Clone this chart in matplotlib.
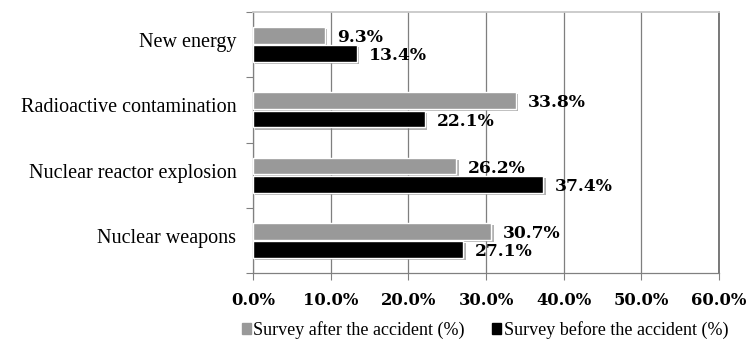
import matplotlib
matplotlib.use("Agg")
import matplotlib.pyplot as plt
import matplotlib.patheffects as pe
from matplotlib.patches import Rectangle
import numpy as np

categories = ["New energy", "Radioactive contamination",
              "Nuclear reactor explosion", "Nuclear weapons"]
after_accident = [9.3, 33.8, 26.2, 30.7]
before_accident = [13.4, 22.1, 37.4, 27.1]
series_names = ["Survey after the accident (%)", "Survey before the accident (%)"]
x_ticks = [0, 10, 20, 30, 40, 50, 60]

GRAY = "#999999"
BLACK = "#000000"
serif = ["Liberation Serif", "DejaVu Serif"]
tick_font = dict(family="DejaVu Serif", weight="bold", size=11.8)
value_font = dict(family="DejaVu Serif", weight="bold", size=12.3)

fig = plt.figure(figsize=(7.49, 3.42), dpi=100)
ax = fig.add_axes([253 / 749, 1 - 273 / 342, (719 - 253) / 749, (273 - 12) / 342])

n = len(categories)
y = np.arange(n)[::-1]  # first category on top
h = 0.26
off = 0.14

shadow = [pe.SimplePatchShadow(offset=(1.5, -1.5), shadow_rgbFace="#7f7f7f", alpha=0.6),
          pe.Normal()]

b_after = ax.barh(y + off, after_accident, height=h, color=GRAY,
                  edgecolor="white", linewidth=1.0, zorder=3)
b_before = ax.barh(y - off, before_accident, height=h, color=BLACK,
                   edgecolor="white", linewidth=1.0, zorder=3)
for bars in (b_after, b_before):
    for p in bars:
        p.set_path_effects(shadow)

for bars, vals in ((b_after, after_accident), (b_before, before_accident)):
    for p, v in zip(bars, vals):
        cy = p.get_y() + p.get_height() / 2
        ax.annotate(f"{v:.1f}%", xy=(v, cy), xytext=(8.5, -1.5),
                    textcoords="offset points", ha="left", va="center",
                    zorder=5, **value_font)

ax.set_xlim(0, 60)
ax.set_ylim(-0.5, n - 0.5)

ax.set_xticks(x_ticks)
ax.set_xticklabels([f"{t:.1f}%" for t in x_ticks], fontdict=tick_font)
ax.tick_params(axis="x", length=5, width=0.8, color="#808080", pad=9)

ax.set_yticks(y + 0.07)
ax.set_yticklabels(categories, family=serif, size=14.5)
ax.set_yticks(np.arange(-0.5, n, 1.0), minor=True)
ax.tick_params(axis="y", which="major", length=0, pad=12)
ax.tick_params(axis="y", which="minor", length=5, width=0.8, color="#808080")

ax.grid(axis="x", color="#7f7f7f", linewidth=0.9, zorder=0)
ax.set_axisbelow(True)
for side in ("left", "bottom"):
    ax.spines[side].set_color("#808080")
    ax.spines[side].set_linewidth(0.9)
ax.spines["right"].set_color("#6e6e6e")
ax.spines["right"].set_linewidth(1.3)
ax.spines["top"].set_color("#c8c8c8")
ax.spines["top"].set_linewidth(1.3)

handles = [Rectangle((0, 0), 1, 1, color=GRAY), Rectangle((0, 0), 1, 1, color=BLACK)]
fig.legend(handles, series_names, loc="center", bbox_to_anchor=(485 / 749, 1 - 330 / 342),
           ncol=2, frameon=False, prop=dict(family=serif, size=13),
           handlelength=0.5, handleheight=0.5, handletextpad=0.15, columnspacing=1.5)

fig.savefig("out.png", dpi=100)
